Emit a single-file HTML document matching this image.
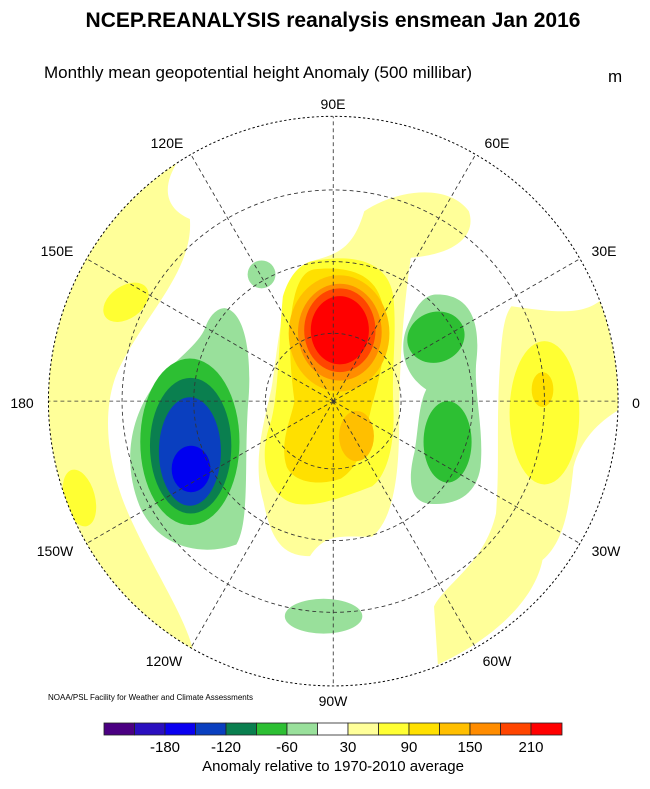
<!DOCTYPE html>
<html><head><meta charset="utf-8"><style>
body{margin:0;background:#fff;width:650px;height:784px;overflow:hidden;font-family:"Liberation Sans",sans-serif}
</style></head><body>
<svg width="650" height="784" viewBox="0 0 650 784" xmlns="http://www.w3.org/2000/svg" font-family="Liberation Sans, sans-serif">
<text x="333" y="27" font-size="21" font-weight="bold" text-anchor="middle">NCEP.REANALYSIS reanalysis ensmean Jan 2016</text>
<text x="44" y="78" font-size="17">Monthly mean geopotential height Anomaly (500 millibar)</text>
<text x="608" y="82" font-size="17">m</text>
<defs><clipPath id="c"><circle cx="780" cy="790" r="735"/></clipPath></defs>
<g transform="translate(31,95) scale(0.3875)">
<g clip-path="url(#c)">
<rect x="0" y="0" width="1600" height="1600" fill="#fff"/>
<path d="M380,170 C340,230 340,290 410,320 C420,450 300,560 230,700 C180,800 190,950 260,1100 C330,1250 400,1350 420,1440 L20,1440 L20,170 Z" fill="#ffff99"/>
<ellipse cx="245" cy="535" rx="65" ry="42" transform="rotate(-35 245 535)" fill="#ffff33"/>
<ellipse cx="125" cy="1040" rx="40" ry="75" transform="rotate(-15 125 1040)" fill="#ffff33"/>
<path d="M500,550 C560,560 570,700 560,800 C550,950 565,1100 530,1160 C450,1190 330,1175 280,1060 C240,960 250,850 310,760 C360,690 430,650 450,600 C460,570 480,550 500,550 Z" fill="#99e09b"/>
<ellipse cx="410" cy="895" rx="128" ry="215" fill="#2dbf33"/>
<ellipse cx="412" cy="905" rx="105" ry="175" fill="#0a7f4f"/>
<ellipse cx="410" cy="920" rx="80" ry="140" fill="#0a3fbf"/>
<ellipse cx="413" cy="965" rx="50" ry="60" fill="#0000f0"/>
<circle cx="595" cy="463" r="36" fill="#99e09b"/>
<path d="M860,300 C950,240 1080,230 1130,300 C1150,360 1100,410 980,420 C960,560 950,700 950,850 C950,1000 930,1100 880,1140 C800,1140 760,1130 720,1190 C650,1190 620,1150 600,1050 C570,950 600,850 620,760 C640,650 640,500 720,430 C790,410 830,400 860,300 Z" fill="#ffff99"/>
<path d="M720,430 C820,410 920,420 935,520 C945,620 930,700 935,800 C940,900 920,980 880,1010 C800,1040 700,1080 650,1040 C600,1000 590,920 620,840 C640,760 640,620 650,520 C665,470 690,440 720,430 Z" fill="#ffff33"/>
<path d="M730,450 C820,440 900,460 910,560 C920,650 900,730 880,800 C860,880 860,950 800,990 C740,1010 680,1000 660,960 C640,900 670,840 680,790 C670,720 660,600 680,520 C690,480 705,455 730,450 Z" fill="#ffe000"/>
<ellipse cx="840" cy="880" rx="45" ry="65" fill="#ffbf00"/>
<ellipse cx="795" cy="615" rx="130" ry="150" fill="#ffbf00"/>
<ellipse cx="797" cy="612" rx="108" ry="125" fill="#ff8c00"/>
<ellipse cx="797" cy="607" rx="92" ry="108" fill="#ff4500"/>
<ellipse cx="797" cy="607" rx="75" ry="88" fill="#ff0000"/>
<path d="M1040,515 C1130,510 1160,580 1150,680 C1140,760 1170,860 1160,960 C1150,1030 1100,1060 1030,1055 C970,1050 975,980 990,920 C1000,860 1000,800 1020,760 C960,720 950,650 970,600 C990,550 1010,520 1040,515 Z" fill="#99e09b"/>
<ellipse cx="1045" cy="625" rx="75" ry="65" transform="rotate(-20 1045 625)" fill="#2dbf33"/>
<ellipse cx="1075" cy="895" rx="62" ry="105" fill="#2dbf33"/>
<path d="M1240,545 C1350,560 1420,570 1470,530 L1540,540 L1540,800 C1480,830 1420,880 1400,960 C1390,1050 1380,1150 1320,1200 C1300,1300 1200,1400 1050,1470 L1040,1320 C1070,1260 1170,1210 1200,1080 C1210,950 1200,850 1210,700 C1215,620 1220,570 1240,545 Z" fill="#ffff99"/>
<ellipse cx="1325" cy="820" rx="90" ry="185" fill="#ffff33"/>
<ellipse cx="1320" cy="760" rx="28" ry="45" fill="#ffe000"/>
<ellipse cx="755" cy="1345" rx="100" ry="45" fill="#99e09b"/>
<g fill="none" stroke="#333" stroke-width="2.2" stroke-dasharray="10,8">
<circle cx="780" cy="790" r="175"/>
<circle cx="780" cy="790" r="360"/>
<circle cx="780" cy="790" r="545"/>
<line x1="40" y1="790" x2="1520" y2="790"/>
<line x1="780" y1="50" x2="780" y2="1530"/>
<line x1="780" y1="790" x2="410" y2="149"/><line x1="780" y1="790" x2="1150" y2="149"/>
<line x1="780" y1="790" x2="139" y2="420"/><line x1="780" y1="790" x2="1421" y2="420"/>
<line x1="780" y1="790" x2="139" y2="1160"/><line x1="780" y1="790" x2="1421" y2="1160"/>
<line x1="780" y1="790" x2="410" y2="1431"/><line x1="780" y1="790" x2="1150" y2="1431"/>
</g>
</g>
<circle cx="780" cy="790" r="735" fill="none" stroke="#000" stroke-width="2.5" stroke-dasharray="6,6"/>
</g>
<g font-size="14" text-anchor="middle">
<text x="333" y="109">90E</text>
<text x="167" y="148">120E</text>
<text x="497" y="148">60E</text>
<text x="57" y="256">150E</text>
<text x="604" y="256">30E</text>
<text x="22" y="408">180</text>
<text x="636" y="408">0</text>
<text x="55" y="556">150W</text>
<text x="606" y="556">30W</text>
<text x="164" y="666">120W</text>
<text x="497" y="666">60W</text>
<text x="333" y="706">90W</text>
</g>
<text x="48" y="700" font-size="8">NOAA/PSL Facility for Weather and Climate Assessments</text>
<g stroke="#222" stroke-width="0.8">
<rect x="104" y="723" width="30.5" height="12" fill="#4b0082"/>
<rect x="134.5" y="723" width="30.5" height="12" fill="#2a0fbf"/>
<rect x="165" y="723" width="30.5" height="12" fill="#0a00f0"/>
<rect x="195.5" y="723" width="30.5" height="12" fill="#0a3fbf"/>
<rect x="226" y="723" width="30.5" height="12" fill="#0a7f4f"/>
<rect x="256.5" y="723" width="30.5" height="12" fill="#2dbf33"/>
<rect x="287" y="723" width="30.5" height="12" fill="#99e09b"/>
<rect x="317.5" y="723" width="30.5" height="12" fill="#ffffff"/>
<rect x="348" y="723" width="30.5" height="12" fill="#ffff99"/>
<rect x="378.5" y="723" width="30.5" height="12" fill="#ffff33"/>
<rect x="409" y="723" width="30.5" height="12" fill="#ffe000"/>
<rect x="439.5" y="723" width="30.5" height="12" fill="#ffbf00"/>
<rect x="470" y="723" width="30.5" height="12" fill="#ff8c00"/>
<rect x="500.5" y="723" width="30.5" height="12" fill="#ff4500"/>
<rect x="531" y="723" width="31" height="12" fill="#ff0000"/>
</g>
<g font-size="15" text-anchor="middle">
<text x="165" y="752">-180</text>
<text x="226" y="752">-120</text>
<text x="287" y="752">-60</text>
<text x="348" y="752">30</text>
<text x="409" y="752">90</text>
<text x="470" y="752">150</text>
<text x="531" y="752">210</text>
<text x="333" y="771">Anomaly relative to 1970-2010 average</text>
</g>
</svg>
</body></html>
